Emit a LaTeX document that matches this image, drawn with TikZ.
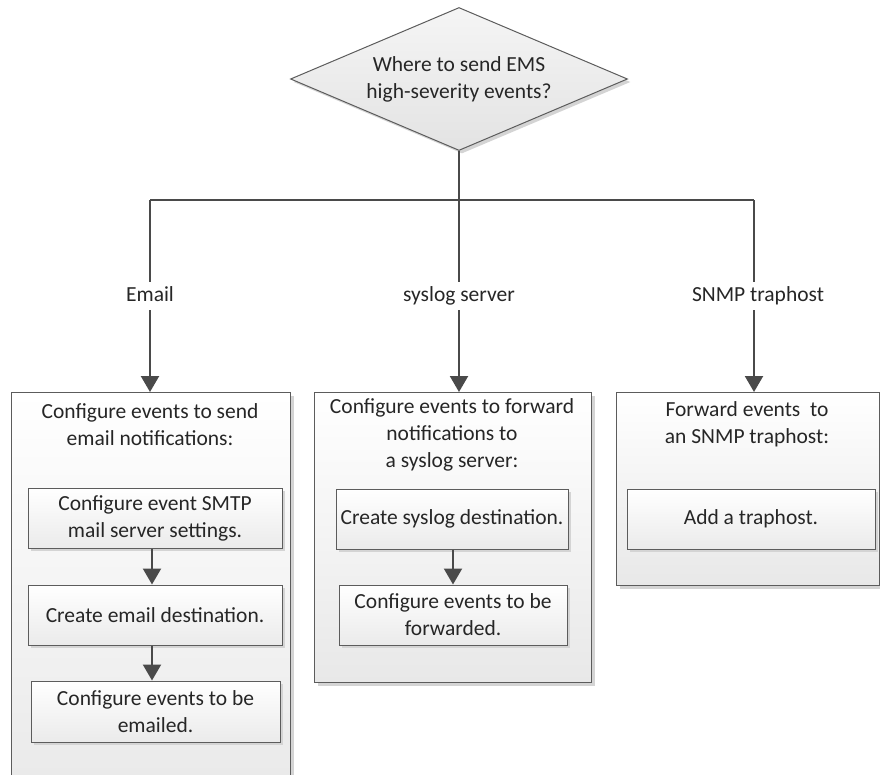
\documentclass[tikz,border=0pt]{standalone}
\usepackage{fontspec}
\setmainfont{Carlito}
\usetikzlibrary{arrows.meta,shapes.geometric,shadows}
\definecolor{ln}{HTML}{4A4A4A}
\definecolor{bd}{HTML}{5C5C5C}
\definecolor{shd}{HTML}{D4D4D4}
\definecolor{txt}{HTML}{262626}
\begin{document}
\begin{tikzpicture}[x=1pt,y=-1pt,
  every node/.style={font=\fontsize{21.5}{27}\selectfont, text=txt},
  shadowed/.style={drop shadow={shadow xshift=3pt,shadow yshift=-3pt,fill=shd,opacity=1}},
  outerbox/.style={draw=bd, line width=1pt, top color=white, bottom color=black!9, shadowed, inner sep=0pt},
  innerbox/.style={draw=bd, line width=1pt, top color=white, bottom color=black!8, shadowed, inner sep=0pt, align=center},
  decision/.style={diamond, aspect=2.36, draw=bd, line width=1pt, top color=black!4, bottom color=black!11, shadowed, inner sep=0pt, align=center, minimum width=337pt, minimum height=143pt},
  lbl/.style={inner sep=0pt, minimum height=28pt, text height=14pt, text depth=4pt},
  conn/.style={draw=ln, line width=2.2pt},
  arr/.style={conn, -{Triangle[width=18pt,length=16pt]}},
  title/.style={inner sep=0pt, align=center}
]
\clip (0,0) rectangle (880,774);
\fill[white] (0,0) rectangle (880,774);

% decision
\node[decision] (dec) at (459,79) {Where to send EMS\\high-severity events?};

% outer boxes
\node[outerbox, minimum width=279pt, minimum height=420pt, anchor=north west] (lbox) at (11,392) {};
\node[outerbox, minimum width=277pt, minimum height=290pt, anchor=north west] (mbox) at (314,392) {};
\node[outerbox, minimum width=263pt, minimum height=193pt, anchor=north west] (rbox) at (616,392) {};

% titles
\node[title] (ltitle) at (150,425) {Configure events to send\\email notifications:};
\node[title] (mtitle) at (452,435) {Configure events to forward\\notifications to\\a syslog server:};
\node[title] (rtitle) at (747,424) {Forward events\ \ to\\an SNMP traphost:};

% inner boxes
\node[innerbox, minimum width=254pt, minimum height=60pt] (l1) at (155,518) {Configure event SMTP\\mail server settings.};
\node[innerbox, minimum width=254pt, minimum height=60pt] (l2) at (155,615) {Create email destination.};
\node[innerbox, minimum width=249pt, minimum height=61pt] (l3) at (155.5,711.5) {Configure events to be\\emailed.};

\node[innerbox, minimum width=232pt, minimum height=60pt] (m1) at (452,519) {Create syslog destination.};
\node[innerbox, minimum width=228pt, minimum height=60pt] (m2) at (453,615) {Configure events to be\\forwarded.};

\node[innerbox, minimum width=248pt, minimum height=60pt] (r1) at (751,519) {Add a traphost.};

% branch labels
\node[lbl] (email) at (150,296) {Email};
\node[lbl] (sys) at (459,296) {syslog server};
\node[lbl] (snmp) at (758,296) {SNMP traphost};

% connectors
\coordinate (jc) at (459,200);
\coordinate (jl) at (150,200);
\coordinate (jr) at (754,200);
\draw[conn] (dec.south) -- (jc);
\draw[conn] (jl) -- (jr);
\draw[conn] (jl) -- (email.north);
\draw[conn] (jc) -- (sys.north);
\draw[conn] (jr) -- (jr |- snmp.north);
\draw[arr] (email.south) -- (lbox.north -| email);
\draw[arr] (sys.south) -- (mbox.north -| sys);
\draw[arr] (jr |- snmp.south) -- (jr |- rbox.north);

\draw[arr] (l1.south -| 152,0) -- (l2.north -| 152,0);
\draw[arr] (l2.south -| 152,0) -- (l3.north -| 152,0);
\draw[arr] (m1.south -| 453,0) -- (m2.north -| 453,0);
\end{tikzpicture}
\end{document}
